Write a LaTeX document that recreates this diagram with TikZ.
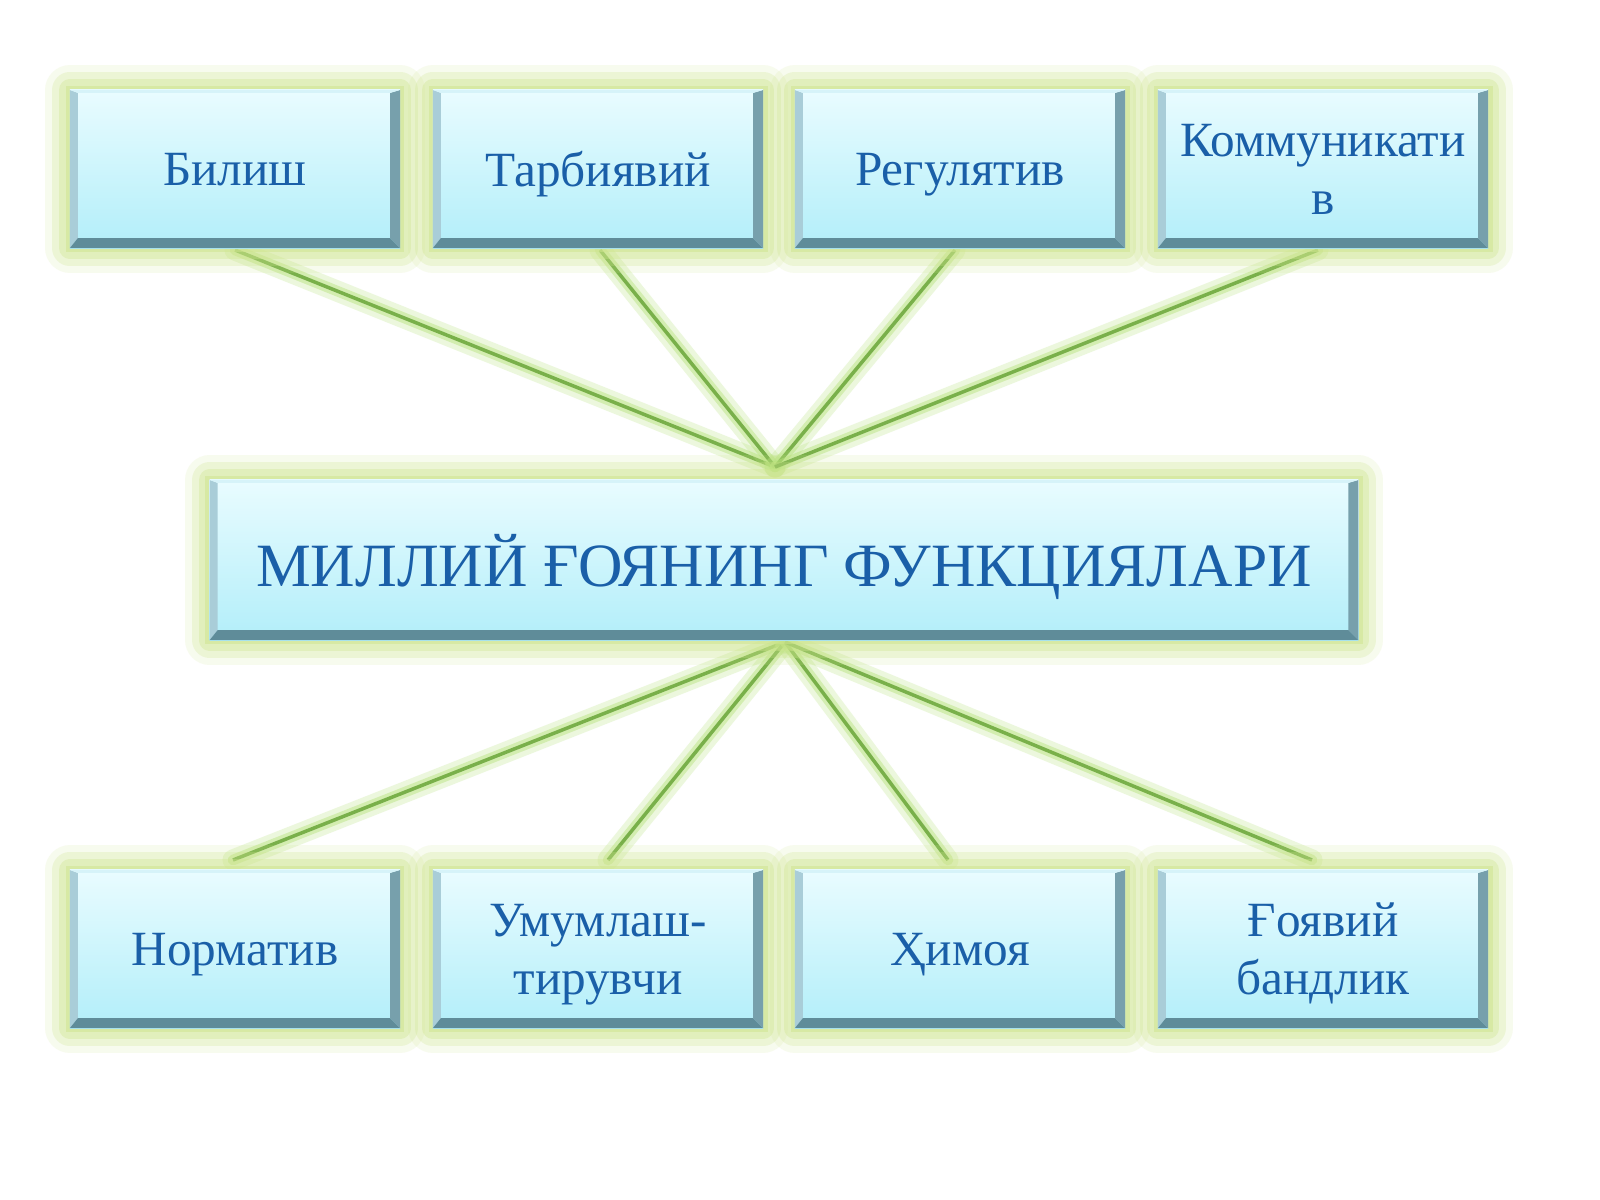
\documentclass[tikz,border=0pt]{standalone}
\usepackage{fontspec}
\setmainfont{Liberation Serif}
\definecolor{boxtop}{HTML}{E9FCFF}
\definecolor{boxbot}{HTML}{B2EEF9}
\definecolor{bevleft}{HTML}{A9CDD8}
\definecolor{bevbot}{HTML}{5F8C99}
\definecolor{bevright}{HTML}{77A0AC}
\definecolor{bevtop}{HTML}{D6F3F9}
\definecolor{txtblue}{HTML}{1A5FA8}
\definecolor{boxglow}{HTML}{CFE58E}
\definecolor{linkgreen}{HTML}{79B04A}
\definecolor{linkglow}{HTML}{B5E27A}
\tikzset{
  funcbox/.style={rectangle, minimum width=3.3cm, minimum height=1.58cm, inner sep=2pt,
    top color=boxtop, bottom color=boxbot, text=txtblue, align=center,
    font=\fontsize{14}{16.5}\selectfont, text depth=-4pt,
    preaction={draw=boxglow, line width=14pt, opacity=0.15, line join=round},
    preaction={draw=boxglow, line width=10pt, opacity=0.25, line join=round},
    preaction={draw=boxglow, line width=6pt, opacity=0.35, line join=round},
    preaction={draw=boxglow, line width=2.5pt, opacity=0.5},
    path picture={
      \fill[bevleft] (path picture bounding box.north west) -- ++(0.08cm,-0.03cm)
        -- ([shift={(0.08cm,0.1cm)}]path picture bounding box.south west) -- (path picture bounding box.south west) -- cycle;
      \fill[bevbot] (path picture bounding box.south west) -- ++(0.08cm,0.1cm)
        -- ([shift={(-0.1cm,0.1cm)}]path picture bounding box.south east) -- (path picture bounding box.south east) -- cycle;
      \fill[bevright] (path picture bounding box.south east) -- ++(-0.1cm,0.1cm)
        -- ([shift={(-0.1cm,-0.03cm)}]path picture bounding box.north east) -- (path picture bounding box.north east) -- cycle;
      \fill[bevtop] (path picture bounding box.north east) -- ++(-0.1cm,-0.03cm)
        -- ([shift={(0.08cm,-0.03cm)}]path picture bounding box.north west) -- (path picture bounding box.north west) -- cycle;
    }},
  mainbox/.style={funcbox, minimum width=11.48cm, minimum height=1.6cm,
    font=\fontsize{17.5}{19}\selectfont},
  link/.style={draw=linkgreen, line width=1pt,
    preaction={draw=linkglow, line width=6pt, opacity=0.25, line cap=round},
    preaction={draw=linkglow, line width=3pt, opacity=0.45, line cap=round}},
}
\begin{document}
\begin{tikzpicture}[x=0.01cm,y=-0.01cm]
\useasboundingbox[fill=white] (0,0) rectangle (1600,1200);
% connectors
\coordinate (hubup) at (775,467);
\coordinate (hubdown) at (785,642);
\draw[link] (235,250) -- (hubup);
\draw[link] (600,250) -- (hubup);
\draw[link] (955,250) -- (hubup);
\draw[link] (1318,250) -- (hubup);
\draw[link] (hubdown) -- (233,860);
\draw[link] (hubdown) -- (608,860);
\draw[link] (hubdown) -- (948,860);
\draw[link] (hubdown) -- (1312,860);
% boxes
\node[funcbox] (bilish) at (235,169) {Билиш};
\node[funcbox] (tarbiya) at (598,169) {Тарбиявий};
\node[funcbox] (regul) at (960,169) {Регулятив};
\node[funcbox] (kommun) at (1323,169) {Коммуникати\\в};
\node[mainbox] (main) at (784,560) {МИЛЛИЙ ҒОЯНИНГ ФУНКЦИЯЛАРИ};
\node[funcbox] (norm) at (235,949) {Норматив};
\node[funcbox] (umum) at (598,949) {Умумлаш-\\тирувчи};
\node[funcbox] (himoya) at (960,949) {Ҳимоя};
\node[funcbox] (goya) at (1323,949) {Ғоявий\\бандлик};
\end{tikzpicture}
\end{document}
